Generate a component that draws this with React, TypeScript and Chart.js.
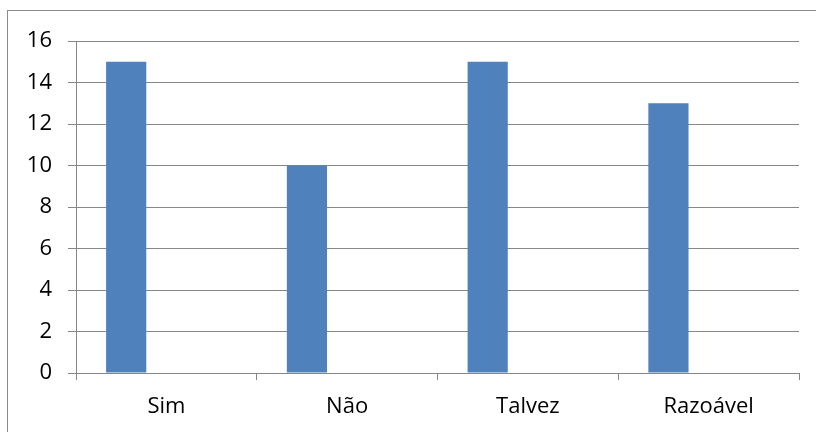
import React, { useEffect, useRef } from "react";
import { Chart, registerables } from "chart.js";

Chart.register(...registerables);

const categories = ["Sim", "Não", "Talvez", "Razoável"];
const seriesValues = [15, 10, 15, 13];
const emptySeriesA = [null, null, null, null];
const emptySeriesB = [null, null, null, null];
const yTickMin = 0;
const yTickMax = 16;
const yTickStep = 2;

const FONT = "'Open Sans', sans-serif";
const GRID = "#878787";

export default function App() {
  const ref = useRef<HTMLCanvasElement | null>(null);

  useEffect(() => {
    if (!ref.current) return;
    const chart = new Chart(ref.current, {
      type: "bar",
      data: {
        labels: categories,
        datasets: [
          { data: seriesValues, backgroundColor: "#4F81BD", borderWidth: 0 },
          { data: emptySeriesA as any, backgroundColor: "#C0504D", borderWidth: 0 },
          { data: emptySeriesB as any, backgroundColor: "#9BBB59", borderWidth: 0 },
        ],
      },
      options: {
        animation: false,
        responsive: false,
        maintainAspectRatio: false,
        layout: { padding: { left: 0, top: 41, right: 17, bottom: 0 } },
        plugins: { legend: { display: false }, tooltip: { enabled: false } },
        datasets: { bar: { categoryPercentage: 0.667, barPercentage: 1 } },
        scales: {
          x: {
            grid: {
              display: true,
              drawOnChartArea: false,
              drawTicks: true,
              tickLength: 7,
              color: GRID,
              offset: true,
            },
            border: { display: true, color: GRID, width: 1 },
            ticks: {
              color: "#000",
              font: { family: FONT, size: 22 },
              padding: 14,
              maxRotation: 0,
            },
            afterFit: (s: any) => {
              s.height = 59;
            },
          },
          y: {
            min: yTickMin,
            max: yTickMax,
            grid: { color: GRID, tickLength: 8, drawTicks: true },
            border: { display: true, color: GRID, width: 1 },
            ticks: {
              stepSize: yTickStep,
              color: "#000",
              font: { family: FONT, size: 22 },
              padding: 16,
            },
            afterFit: (s: any) => {
              s.width = 76;
            },
          },
        },
      },
    });
    return () => chart.destroy();
  }, []);

  return (
    <div style={{ position: "fixed", left: 0, top: 0, width: 816, height: 432, background: "#fff", overflow: "hidden" }}>
      <div
        style={{
          position: "absolute",
          left: 7,
          top: 10,
          width: 840,
          height: 460,
          borderLeft: "1px solid #8c8c8c",
          borderTop: "1px solid #8c8c8c",
        }}
      />
      <canvas ref={ref} width={816} height={432} style={{ position: "absolute", left: 0, top: 0, display: "block" }} />
    </div>
  );
}
